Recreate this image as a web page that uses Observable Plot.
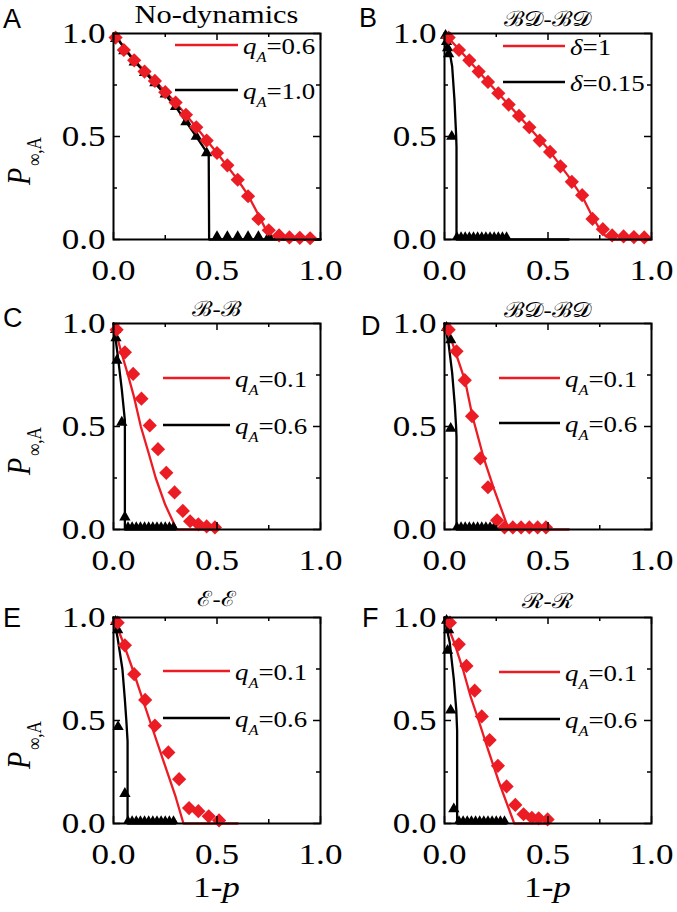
<!DOCTYPE html>
<html><head><meta charset="utf-8">
<script src="https://cdn.jsdelivr.net/npm/d3@7"></script>
<script src="https://cdn.jsdelivr.net/npm/@observablehq/plot@0.6"></script>
<style>
html,body{margin:0;padding:0;background:#fff;}
#page{position:relative;width:677px;height:912px;overflow:hidden;background:#fff;}
.panel{position:absolute;}
.panel svg{overflow:visible;}
#overlay{position:absolute;left:0;top:0;pointer-events:none;overflow:visible;}
</style></head><body><div id="page"></div>
<script>
// ---------- data ----------
const ticksMajor = [0, 0.5, 1];
const ticksMinor = [0.25, 0.75];
const zeroY = 0.015;

// Panel A: No-dynamics
const A_redPts = [[0.01,0.98],[0.05,0.92],[0.10,0.87],[0.15,0.815],[0.20,0.77],[0.25,0.715],[0.30,0.665],[0.35,0.605],[0.40,0.545],[0.45,0.48],[0.50,0.42],[0.55,0.36],[0.60,0.29],[0.65,0.21],[0.70,0.10],[0.75,0.045],[0.80,0.02],[0.85,0.01],[0.90,0.008],[0.95,0.006]];
const A_redLine = [[0,1],[0.10,0.87],[0.20,0.77],[0.30,0.665],[0.40,0.545],[0.50,0.42],[0.60,0.29],[0.65,0.215],[0.70,0.12],[0.73,0.06],[0.76,0.02],[0.80,0.005],[0.85,0],[1.0,0]];
const A_blackPts = [[0.01,0.975],[0.05,0.915],[0.10,0.86],[0.15,0.81],[0.20,0.76],[0.25,0.705],[0.30,0.645],[0.35,0.57],[0.40,0.50],[0.45,0.42]];
const A_blackZero = [0.50,0.55,0.60,0.65,0.70,0.75,0.80];
const A_blackLine = [[0,1],[0.10,0.865],[0.20,0.76],[0.30,0.645],[0.40,0.50],[0.46,0.41],[0.462,0],[1.0,0]];

// Panel B: BD-BD, delta
const B_redPts = [[0.02,0.98],[0.07,0.92],[0.12,0.87],[0.165,0.815],[0.21,0.765],[0.26,0.71],[0.31,0.655],[0.36,0.60],[0.41,0.545],[0.46,0.48],[0.51,0.425],[0.56,0.355],[0.615,0.28],[0.665,0.215],[0.715,0.10],[0.765,0.05],[0.81,0.02],[0.865,0.015],[0.915,0.012],[0.965,0.01]];
const B_redLine = [[0,1],[0.10,0.89],[0.20,0.775],[0.30,0.665],[0.40,0.555],[0.50,0.44],[0.60,0.305],[0.67,0.20],[0.71,0.12],[0.75,0.05],[0.78,0.015],[0.82,0],[1.0,0]];
const B_blackPts = [[0.005,0.99],[0.01,0.96],[0.015,0.93],[0.02,0.90],[0.035,0.50]];
const B_blackZero = [0.06,0.08,0.10,0.12,0.14,0.16,0.18,0.20,0.22,0.24,0.26,0.28,0.30];
const B_blackLine = [[0,1],[0.01,0.97],[0.025,0.91],[0.037,0.84],[0.048,0.68],[0.056,0.51],[0.058,0.45],[0.058,0],[0.6,0]];

// Panel C: B-B
const C_redPts = [[0.015,0.97],[0.055,0.86],[0.095,0.755],[0.135,0.635],[0.175,0.505],[0.215,0.39],[0.255,0.275],[0.295,0.18],[0.335,0.09],[0.37,0.04],[0.41,0.025],[0.45,0.015],[0.49,0.01]];
const C_redLine = [[0,1],[0.035,0.87],[0.07,0.75],[0.10,0.64],[0.132,0.50],[0.17,0.37],[0.204,0.25],[0.25,0.12],[0.305,0],[0.5,0]];
const C_blackPts = [[0.01,0.97],[0.012,0.93],[0.016,0.82],[0.04,0.52],[0.055,0.06]];
const C_blackZero = [0.07,0.09,0.11,0.13,0.15,0.17,0.19,0.21,0.23,0.25,0.27,0.29];
const C_blackLine = [[0,1],[0.02,0.85],[0.04,0.68],[0.055,0.53],[0.055,0],[0.3,0]];

// Panel D: BD-BD, qA
const D_redPts = [[0.02,0.97],[0.058,0.865],[0.098,0.725],[0.133,0.55],[0.173,0.345],[0.21,0.205],[0.254,0.045],[0.29,0.01],[0.33,0.01],[0.37,0.01],[0.41,0.01],[0.45,0.01],[0.49,0.01]];
const D_redLine = [[0,1],[0.04,0.90],[0.10,0.72],[0.135,0.55],[0.19,0.345],[0.238,0.20],[0.31,0],[0.6,0]];
const D_blackPts = [[0.01,0.98],[0.03,0.92],[0.03,0.49]];
const D_blackZero = [0.06,0.08,0.10,0.12,0.14,0.16,0.18,0.20,0.22,0.24];
const D_blackLine = [[0,1],[0.02,0.90],[0.037,0.76],[0.05,0.60],[0.056,0.50],[0.058,0.45],[0.058,0],[0.3,0]];

// Panel E: E-E
const E_redPts = [[0.02,0.975],[0.055,0.865],[0.10,0.725],[0.153,0.60],[0.20,0.475],[0.265,0.345],[0.317,0.215],[0.365,0.075],[0.41,0.06],[0.46,0.035],[0.51,0.015]];
const E_redLine = [[0,1],[0.05,0.87],[0.092,0.75],[0.175,0.50],[0.256,0.26],[0.30,0.13],[0.338,0],[0.6,0]];
const E_blackPts = [[0.01,0.98],[0.02,0.94],[0.022,0.47],[0.055,0.145]];
const E_blackZero = [0.07,0.09,0.11,0.13,0.15,0.17,0.19,0.21,0.23,0.25,0.27,0.29];
const E_blackLine = [[0,1],[0.02,0.90],[0.043,0.75],[0.055,0.60],[0.062,0.50],[0.068,0.40],[0.068,0],[0.3,0]];

// Panel F: R-R
const F_redPts = [[0.026,0.975],[0.069,0.87],[0.106,0.765],[0.146,0.645],[0.18,0.52],[0.218,0.405],[0.258,0.28],[0.30,0.18],[0.342,0.09],[0.382,0.045],[0.422,0.028],[0.455,0.025],[0.498,0.02]];
const F_redLine = [[0,1],[0.05,0.87],[0.09,0.745],[0.125,0.62],[0.165,0.50],[0.21,0.36],[0.26,0.21],[0.30,0.10],[0.337,0],[0.5,0]];
const F_blackPts = [[0.01,0.985],[0.02,0.94],[0.015,0.84],[0.03,0.55],[0.045,0.07]];
const F_blackZero = [0.07,0.09,0.11,0.13,0.15,0.17,0.19,0.21,0.23,0.25,0.27,0.29];
const F_blackLine = [[0,1],[0.025,0.88],[0.045,0.70],[0.057,0.55],[0.061,0.45],[0.061,0],[0.3,0]];

// labels
const panelLetters = ["A","B","C","D","E","F"];
const panelTitles = ["No-dynamics","ℬ𝒟-ℬ𝒟","ℬ-ℬ","ℬ𝒟-ℬ𝒟","ℰ-ℰ","ℛ-ℛ"];
const legendRed = [["q","A","=0.6"],["δ","","=1"],["q","A","=0.1"],["q","A","=0.1"],["q","A","=0.1"],["q","A","=0.1"]];
const legendBlack = [["q","A","=1.0"],["δ","","=0.15"],["q","A","=0.6"],["q","A","=0.6"],["q","A","=0.6"],["q","A","=0.6"]];
const xTitle = ["1-", "p"];
const yTitle = ["P", "∞,A"];

// ---------- layout / style ----------
const RED = "#ec1c24";
const SERIF = "'Liberation Serif','Times New Roman',serif";
const S = 1.17; // horizontal stretch of the serif lettering
const W = 340, H = 295, MT = 33, MB = 56, FW = 207;
const FH = H - MT - MB;
const colLeft = [0, 337], rowTop = [0, 290, 584], colML = [113, 107];
const legendGeom = [ // [lineStartOffset, lineEndOffset, redDy, blackDy]
  [62,125,12,57],[59,121,13,49],[50,117,55,102],[55,116,55,100],[50,117,54,101],[55,116,55,102]
];
const letterPos = [[3,28],[359,27],[3,327],[361,335],[3,627],[362,627]];
const titleBase = [23,26,316,317,606,608];

const panels = [
  {red:A_redPts, redLine:A_redLine, black:A_blackPts, zero:A_blackZero, blackLine:A_blackLine, zr:4},
  {red:B_redPts, redLine:B_redLine, black:B_blackPts, zero:B_blackZero, blackLine:B_blackLine, zr:3.3},
  {red:C_redPts, redLine:C_redLine, black:C_blackPts, zero:C_blackZero, blackLine:C_blackLine, zr:3.3},
  {red:D_redPts, redLine:D_redLine, black:D_blackPts, zero:D_blackZero, blackLine:D_blackLine, zr:3.3},
  {red:E_redPts, redLine:E_redLine, black:E_blackPts, zero:E_blackZero, blackLine:E_blackLine, zr:3.3},
  {red:F_redPts, redLine:F_redLine, black:F_blackPts, zero:F_blackZero, blackLine:F_blackLine, zr:3.3}
];

const page = document.getElementById("page");
const toObj = a => a.map(([x,y]) => ({x,y}));
const fmt = d3.format(".1f");

panels.forEach((p, i) => {
  const col = i % 2, row = Math.floor(i / 2);
  const ml = colML[col], mr = W - ml - FW;
  const chart = Plot.plot({
    width: W, height: H, marginTop: MT, marginBottom: MB, marginLeft: ml, marginRight: mr,
    x: {domain: [0, 1]}, y: {domain: [0, 1]},
    style: {fontFamily: SERIF, fontSize: "30px", color: "#000", background: "transparent", overflow: "visible"},
    marks: [
      Plot.line(toObj(p.redLine), {x: "x", y: "y", stroke: RED, strokeWidth: 2.3}),
      Plot.line(toObj(p.blackLine), {x: "x", y: "y", stroke: "#000", strokeWidth: 2.3}),
      Plot.dot(p.zero, {x: d => d, y: () => zeroY, symbol: "triangle", r: p.zr, fill: "#000", stroke: "none"}),
      Plot.dot(toObj(p.black), {x: "x", y: "y", symbol: "triangle", r: 4.2, fill: "#000", stroke: "none"}),
      Plot.dot(toObj(p.red), {x: "x", y: "y", symbol: "diamond2", r: 6.4, fill: RED, stroke: "none"}),
      Plot.tickX(ticksMajor, {x: d => d, insetTop: FH - 7, strokeWidth: 1.5}),
      Plot.tickX(ticksMajor, {x: d => d, insetBottom: FH - 7, strokeWidth: 1.5}),
      Plot.tickX(ticksMinor, {x: d => d, insetTop: FH - 4, strokeWidth: 1.5}),
      Plot.tickX(ticksMinor, {x: d => d, insetBottom: FH - 4, strokeWidth: 1.5}),
      Plot.tickY(ticksMajor, {y: d => d, insetRight: FW - 7, strokeWidth: 1.5}),
      Plot.tickY(ticksMajor, {y: d => d, insetLeft: FW - 7, strokeWidth: 1.5}),
      Plot.tickY(ticksMinor, {y: d => d, insetRight: FW - 4, strokeWidth: 1.5}),
      Plot.tickY(ticksMinor, {y: d => d, insetLeft: FW - 4, strokeWidth: 1.5}),
      Plot.frame({stroke: "#000", strokeWidth: 2}),
      Plot.axisX({ticks: ticksMajor, tickSize: 0, tickPadding: 19, tickFormat: fmt, label: null, fontSize: 30, fontFamily: SERIF, fill: "#000"}),
      Plot.axisY({ticks: ticksMajor, tickSize: 0, tickPadding: 8, tickFormat: fmt, label: null, fontSize: 30, fontFamily: SERIF, fill: "#000"})
    ]
  });
  // stretch the tick labels horizontally around their anchor, like the reference lettering
  chart.querySelectorAll('g[aria-label$="tick label"] text').forEach(t => {
    const tr = t.getAttribute("transform");
    if (tr) t.setAttribute("transform", tr + ` scale(${S},1)`);
    else {
      const x = +(t.getAttribute("x") || 0);
      t.setAttribute("transform", `translate(${x * (1 - S)},0) scale(${S},1)`);
    }
  });
  const div = document.createElement("div");
  div.className = "panel";
  div.style.left = colLeft[col] + "px";
  div.style.top = rowTop[row] + "px";
  div.appendChild(chart);
  page.appendChild(div);
});

// ---------- overlay: letters, titles, legends, axis titles ----------
const ov = d3.create("svg").attr("id", "overlay").attr("width", 677).attr("height", 912);
function stretchedText(x, y, extra = "") {
  return ov.append("g").attr("transform", `translate(${x},${y}) scale(${S},1)${extra}`)
    .append("text").attr("font-family", SERIF);
}
panels.forEach((p, i) => {
  const col = i % 2, row = Math.floor(i / 2);
  const FL = colLeft[col] + colML[col], FT = rowTop[row] + MT;
  // panel letter
  ov.append("text").attr("x", letterPos[i][0]).attr("y", letterPos[i][1])
    .attr("font-family", "'Liberation Sans',Arial,sans-serif").attr("font-size", 27).text(panelLetters[i]);
  // title
  const t = stretchedText(FL + FW / 2, titleBase[i]).attr("text-anchor", "middle");
  if (i === 0) t.attr("font-size", 26).text(panelTitles[i]);
  else t.attr("font-size", 21).text(panelTitles[i]);
  // legend
  const g = legendGeom[i];
  [[legendRed[i], RED, g[2]], [legendBlack[i], "#000", g[3]]].forEach(([lab, color, dy]) => {
    const y = FT + dy;
    ov.append("line").attr("x1", FL + g[0]).attr("x2", FL + g[1]).attr("y1", y).attr("y2", y)
      .attr("stroke", color).attr("stroke-width", 2.3);
    const tx = stretchedText(FL + g[1] + 5, y + 9).attr("font-size", 23);
    tx.append("tspan").attr("font-style", "italic").text(lab[0]);
    if (lab[1]) {
      tx.append("tspan").attr("font-style", "italic").attr("font-size", 14).attr("dy", 8).text(lab[1]);
      tx.append("tspan").attr("dy", -8).text(lab[2]);
    } else {
      tx.append("tspan").text(lab[2]);
    }
  });
  // y title on left column
  if (col === 0) {
    const yt = stretchedText(30, FT + 152, " rotate(-90)").attr("font-size", 28);
    yt.append("tspan").attr("font-style", "italic").text(yTitle[0]);
    yt.append("tspan").attr("font-size", 17).attr("dx", 2).attr("dy", 9).text(yTitle[1]);
  }
  // x title on bottom row
  if (row === 2) {
    const xt = stretchedText(FL + FW / 2, 897).attr("text-anchor", "middle").attr("font-size", 30);
    xt.append("tspan").text(xTitle[0]);
    xt.append("tspan").attr("font-style", "italic").text(xTitle[1]);
  }
});
page.appendChild(ov.node());
</script>
</body></html>
